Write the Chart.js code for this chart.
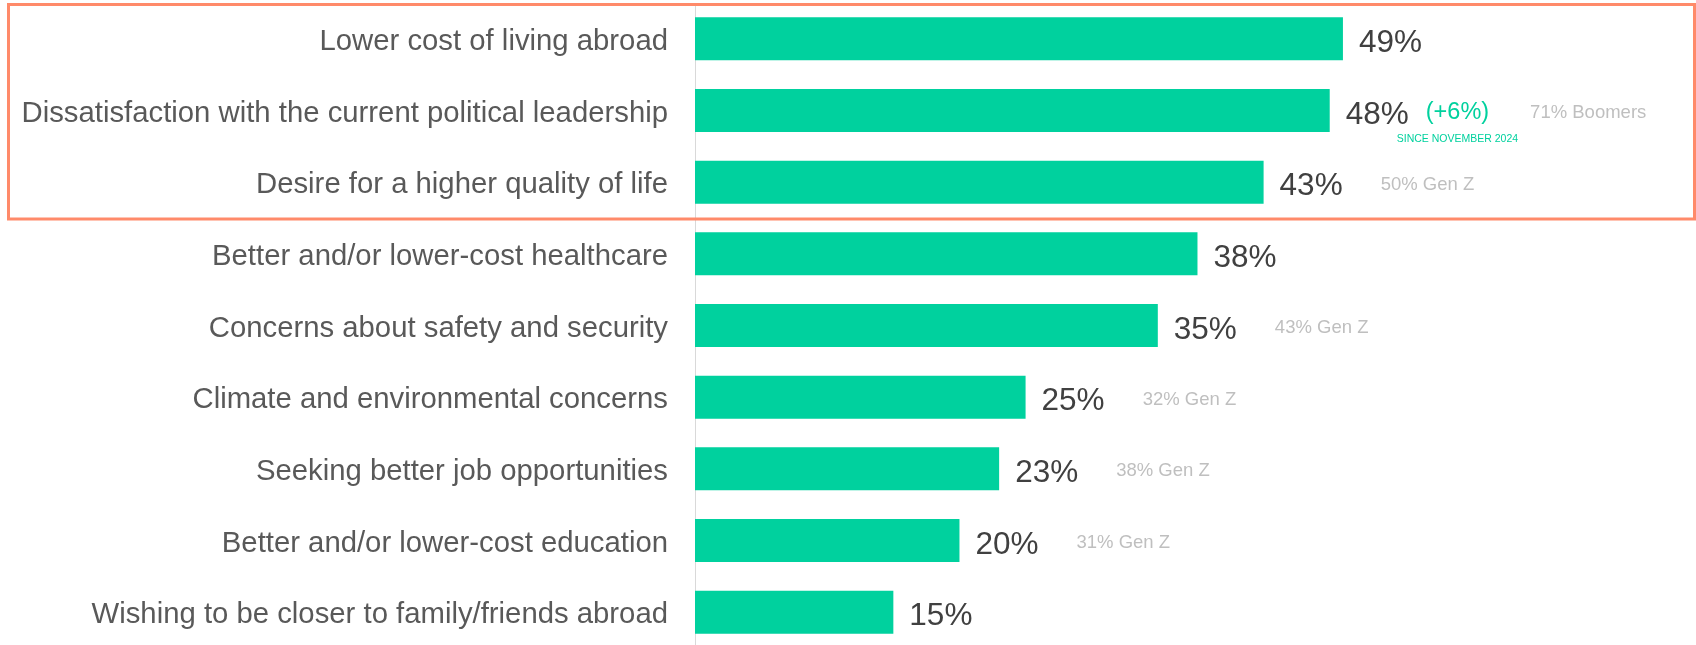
<!DOCTYPE html>
<html>
<head>
<meta charset="utf-8">
<script src="https://cdn.jsdelivr.net/npm/chart.js@4.4.1/dist/chart.umd.min.js"></script>
<style>
  html, body { margin: 0; padding: 0; background: #fff; overflow: hidden; }
  #wrap { position: relative; width: 1696px; height: 648px; }
</style>
</head>
<body>
<div id="wrap"><canvas id="myChart"></canvas></div>
<script>
// dane z wykresu
const categories = [
    'Lower cost of living abroad',
    'Dissatisfaction with the current political leadership',
    'Desire for a higher quality of life',
    'Better and/or lower-cost healthcare',
    'Concerns about safety and security',
    'Climate and environmental concerns',
    'Seeking better job opportunities',
    'Better and/or lower-cost education',
    'Wishing to be closer to family/friends abroad'
];
const values = [49, 48, 43, 38, 35, 25, 23, 20, 15];
const changes = ['', '(+6%)', '', '', '', '', '', '', ''];
const changeNotes = ['', 'SINCE NOVEMBER 2024', '', '', '', '', '', '', ''];
const sideNotes = ['', '71% Boomers', '50% Gen Z', '', '43% Gen Z', '32% Gen Z', '38% Gen Z', '31% Gen Z', ''];
const highlightRows = [0, 1, 2]; // rows inside the orange box

const FONT = "'Liberation Sans', Arial, sans-serif";
const GREEN = '#00d19e';

// etykiety wartości + notatki obok słupków
const labelsPlugin = {
    id: 'barLabels',
    afterDatasetsDraw(chart) {
        const ctx = chart.ctx;
        const meta = chart.getDatasetMeta(0);
        ctx.save();
        ctx.textBaseline = 'alphabetic';
        ctx.textAlign = 'left';
        meta.data.forEach((bar, i) => {
            const y = bar.y;
            let x = bar.x + 16;
            ctx.font = '31.5px ' + FONT;
            ctx.fillStyle = '#404040';
            const txt = values[i] + '%';
            ctx.fillText(txt, x, y + 13);
            x += ctx.measureText(txt).width;

            if (changes[i]) {
                x += 17;
                ctx.font = '23.5px ' + FONT;
                ctx.fillStyle = GREEN;
                ctx.fillText(changes[i], x, y + 8.5);
                const w = ctx.measureText(changes[i]).width;
                if (changeNotes[i]) {
                    ctx.font = '10.5px ' + FONT;
                    ctx.textAlign = 'center';
                    ctx.fillText(changeNotes[i], x + w / 2, y + 31.5);
                    ctx.textAlign = 'left';
                }
                x += w + 3;
            }

            if (sideNotes[i]) {
                ctx.font = '18.5px ' + FONT;
                ctx.fillStyle = '#bfbfbf';
                ctx.fillText(sideNotes[i], x + 38, y + 7.5);
            }
        });
        ctx.restore();
    },
    afterDraw(chart) {
        // pomarańczowa ramka wokół pierwszych trzech pozycji
        const ctx = chart.ctx;
        const yScale = chart.scales.y;
        const first = highlightRows[0];
        const last = highlightRows[highlightRows.length - 1];
        const step = yScale.getPixelForValue(1) - yScale.getPixelForValue(0);
        const top = yScale.getPixelForValue(first) - step / 2 + 1.5;
        const bottom = yScale.getPixelForValue(last) + step / 2 + 1;
        ctx.save();
        ctx.strokeStyle = '#ff8a6a';
        ctx.lineWidth = 3;
        ctx.strokeRect(8.5, top, chart.width - 10, bottom - top);
        ctx.restore();
    }
};

const ctx = document.getElementById('myChart').getContext('2d');
const myChart = new Chart(ctx, {
    type: 'bar',
    data: {
        labels: categories,
        datasets: [{
            data: values,
            backgroundColor: GREEN,
            borderWidth: 0,
            barPercentage: 0.6,
            categoryPercentage: 1
        }]
    },
    options: {
        indexAxis: 'y',
        responsive: true,
        maintainAspectRatio: false,
        animation: false,
        layout: { padding: { top: 3, right: 0, bottom: 0, left: 0 } },
        plugins: {
            legend: { display: false },
            tooltip: { enabled: false }
        },
        scales: {
            x: {
                display: false,
                min: 0,
                max: 75.7
            },
            y: {
                grid: { display: false, drawTicks: false },
                border: { display: true, color: '#d9d9d9', width: 1 },
                ticks: {
                    color: '#595959',
                    padding: 27,
                    labelOffset: 3,
                    font: { family: FONT, size: 29.3 }
                },
                afterFit(scale) {
                    // stała szerokość osi, bez dodatkowego marginesu góra/dół
                    scale.width = 695;
                    scale.paddingTop = 0;
                    scale.paddingBottom = 0;
                }
            }
        }
    },
    plugins: [labelsPlugin]
});
</script>
</body>
</html>
